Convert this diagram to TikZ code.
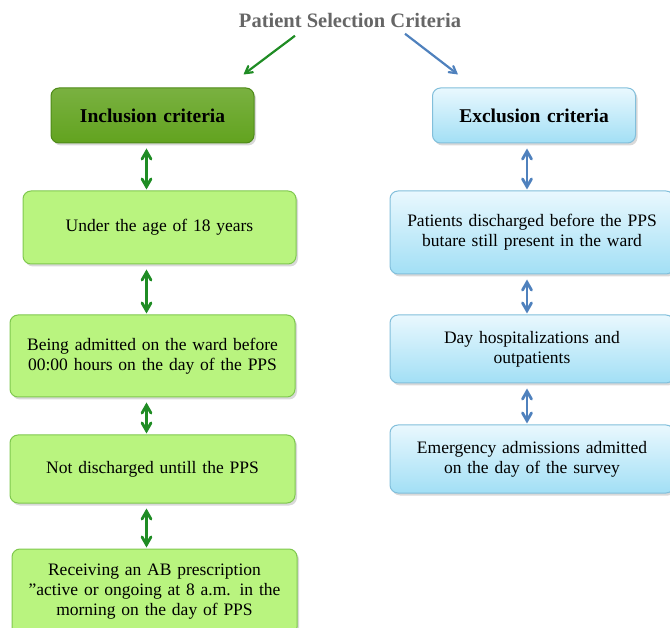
\documentclass[tikz,border=0pt]{standalone}
\usepackage{fontspec}
\setmainfont{Liberation Serif}
\usetikzlibrary{positioning}
\usetikzlibrary{arrows,shadows}

\definecolor{incdark}{HTML}{62A31F}
\definecolor{incline}{HTML}{4E8A18}
\definecolor{inclight}{HTML}{B9F47F}
\definecolor{incborder}{HTML}{7FC84E}
\definecolor{exctop}{HTML}{E9F8FE}
\definecolor{excbot}{HTML}{A2DFF5}
\definecolor{excborder}{HTML}{82BFDB}
\definecolor{arrgreen}{HTML}{1F8C24}
\definecolor{arrblue}{HTML}{4F81BD}

\begin{document}
\begin{tikzpicture}[x=1pt,y=-1pt,>=angle 60,
  box/.style={rounded corners=8pt, align=center, inner sep=0pt, line width=1pt,
    font=\fontsize{17.5}{20}\selectfont,
    drop shadow={opacity=0.3,shadow xshift=2pt,shadow yshift=-2.5pt}},
  incbox/.style={box, draw=incborder, fill=inclight, text width=285pt},
  excbox/.style={box, draw=excborder, top color=exctop, bottom color=excbot, text width=284pt},
  head/.style={box, font=\fontsize{19.5}{20}\selectfont\bfseries, text width=203pt, minimum height=55pt},
  link/.style={<->, line width=2.8pt, shorten <=5pt, shorten >=1pt}]
  \useasboundingbox (0,0) rectangle (670,628);

  \node[font=\fontsize{20.5}{22}\selectfont\bfseries, text=black!60] (title) at (350,20) {Patient Selection Criteria};

  % inclusion side
  \node[head, draw=incline, top color=incdark!85!white, bottom color=incdark] (inc) at (152.5,115.5) {Inclusion criteria};
  \node[incbox, text width=273pt, minimum height=73pt, below=47pt of inc, xshift=7pt] (age) {Under the age of 18 years};
  \node[incbox, minimum height=82pt, below=50pt of age, xshift=-7pt] (admit) {Being admitted on the ward before\\00:00 hours on the day of the PPS};
  \node[incbox, minimum height=68pt, below=37pt of admit] (nodis) {Not discharged untill the PPS};
  \node[incbox, minimum height=86pt, below=45pt of nodis, xshift=2pt] (presc) {Receiving an AB prescription\\”active or ongoing at 8 a.m. in the\\morning on the day of PPS};

  % exclusion side
  \node[head, draw=excborder, top color=exctop, bottom color=excbot] (exc) at (534,115.5) {Exclusion criteria};
  \node[excbox, minimum height=83pt, below=47pt of exc, xshift=-2pt] (disch) {Patients discharged before the PPS\\butare still present in the ward};
  \node[excbox, minimum height=68pt, below=40pt of disch] (dayh) {Day hospitalizations and\\outpatients};
  \node[excbox, minimum height=68pt, below=41pt of dayh] (emerg) {Emergency admissions admitted\\on the day of the survey};

  % arrows from the title
  \draw[->, arrgreen, line width=2.2pt] ([xshift=-55pt,yshift=-5pt]title.south) -- ([xshift=-11pt,yshift=13pt]inc.north east);
  \draw[->, arrblue, line width=2.2pt] ([xshift=55pt,yshift=-3pt]title.south) -- ([xshift=26pt,yshift=13pt]exc.north west);

  % links down each column
  \draw[link, arrgreen] ([xshift=-6pt]inc.south) -- ([xshift=-6pt]inc.south |- age.north);
  \draw[link, arrgreen] ([xshift=-6pt]admit.north |- age.south) -- ([xshift=-6pt]admit.north);
  \draw[link, arrgreen] ([xshift=-6pt]admit.south) -- ([xshift=-6pt]nodis.north);
  \draw[link, arrgreen] ([xshift=-6pt]nodis.south) -- ([xshift=-6pt]nodis.south |- presc.north);
  \draw[link, arrblue] ([xshift=-7pt]exc.south) -- ([xshift=-7pt]exc.south |- disch.north);
  \draw[link, arrblue] ([xshift=-5pt]disch.south) -- ([xshift=-5pt]dayh.north);
  \draw[link, arrblue] ([xshift=-5pt]dayh.south) -- ([xshift=-5pt]emerg.north);
\end{tikzpicture}
\end{document}
